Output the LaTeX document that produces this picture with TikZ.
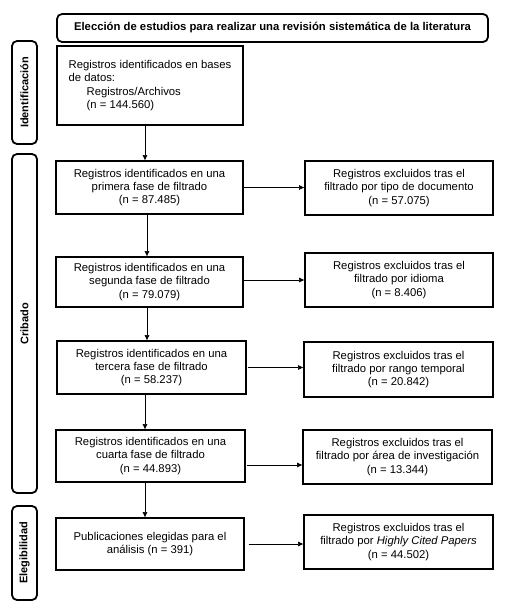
\documentclass[tikz,border=0pt]{standalone}
\usepackage{fontspec}
\setmainfont{Liberation Sans}
\usetikzlibrary{arrows.meta}
\begin{document}
\begin{tikzpicture}[x=1pt,y=-1pt,
  box/.style={draw, line width=1.8pt, inner sep=0pt, align=center, font=\fontsize{11.3}{13.2}\selectfont},
  side/.style={draw, line width=1.8pt, rounded corners=5pt, inner sep=0pt, minimum width=25pt},
  sidetext/.style={rotate=90, font=\bfseries\fontsize{11}{13}\selectfont},
  arrow/.style={line width=0.6pt, -{Triangle[length=5pt,width=4.5pt]}}]
\useasboundingbox (0,0) rectangle (517,610);
% title
\node[draw, line width=1.8pt, rounded corners=5pt, minimum width=431pt, minimum height=28pt, inner sep=0pt,
  font=\bfseries\fontsize{11.3}{13}\selectfont] (title) at (272.5,28)
  {Elección de estudios para realizar una revisión sistemática de la literatura};
% side boxes
\node[side, minimum height=103pt] (sid) at (24.5,92.5) {};
\node[sidetext] (sidt) at (sid.center) {Identificación};
\node[side, minimum height=339pt] (scr) at (24.5,323.5) {};
\node[sidetext] (scrt) at (scr.center) {Cribado};
\node[side, minimum height=94pt] (sel) at (24.5,553) {};
\node[sidetext] (selt) at (sel.center) {Elegibilidad};
% left column
\node[box, minimum width=186pt, minimum height=79pt, align=left] (b1) at (150,85.5)
  {Registros identificados en bases\\de datos:\\\hspace*{18pt}Registros/Archivos\\\hspace*{18pt}(n = 144.560)};
\node[box, minimum width=187pt, minimum height=53pt] (b2) at (149.5,187.5)
  {Registros identificados en una\\primera fase de filtrado\\(n = 87.485)};
\node[box, minimum width=187pt, minimum height=50pt] (b3) at (149.5,282)
  {Registros identificados en una\\segunda fase de filtrado\\(n = 79.079)};
\node[box, minimum width=189pt, minimum height=53pt] (b4) at (151.5,367.5)
  {Registros identificados en una\\tercera fase de filtrado\\(n = 58.237)};
\node[box, minimum width=189pt, minimum height=52pt] (b5) at (150.5,456)
  {Registros identificados en una\\cuarta fase de filtrado\\(n = 44.893)};
\node[box, minimum width=188pt, minimum height=52pt] (b6) at (150,544)
  {Publicaciones elegidas para el\\análisis (n = 391)};
% right column
\node[box, minimum width=188pt, minimum height=54pt] (e1) at (399,188)
  {Registros excluidos tras el\\filtrado por tipo de documento\\(n = 57.075)};
\node[box, minimum width=188pt, minimum height=54pt] (e2) at (399,280)
  {Registros excluidos tras el\\filtrado por idioma\\(n = 8.406)};
\node[box, minimum width=189pt, minimum height=55pt] (e3) at (398.5,369.5)
  {Registros excluidos tras el\\filtrado por rango temporal\\(n = 20.842)};
\node[box, minimum width=189pt, minimum height=54pt] (e4) at (397.5,457)
  {Registros excluidos tras el\\filtrado por área de investigación\\(n = 13.344)};
\node[box, minimum width=189pt, minimum height=54pt] (e5) at (398.5,542)
  {Registros excluidos tras el\\filtrado por \textit{Highly Cited Papers}\\(n = 44.502)};
% vertical arrows
\draw[arrow] ([xshift=-5pt]b1.south) -- ([xshift=-5pt]b1.south |- b2.north);
\draw[arrow] ([xshift=-2.5pt]b2.south) -- ([xshift=-2.5pt]b2.south |- b3.north);
\draw[arrow] ([xshift=-2.5pt]b3.south) -- ([xshift=-2.5pt]b3.south |- b4.north);
\draw[arrow] ([xshift=-6.5pt]b4.south) -- ([xshift=-6.5pt]b4.south |- b5.north);
\draw[arrow] ([xshift=-5.5pt]b5.south) -- ([xshift=-5.5pt]b5.south |- b6.north);
% horizontal arrows
\draw[arrow] (b2.east) -- (b2.east -| e1.west);
\draw[arrow] ([yshift=2pt]b3.east) -- ([yshift=2pt]b3.east -| e2.west);
\draw[arrow] ([xshift=1pt]b4.east) -- (b4.east -| e3.west);
\draw[arrow] ([xshift=1pt,yshift=-9pt]b5.east) -- ([yshift=-9pt]b5.east -| e4.west);
\draw[arrow] ([xshift=4pt]b6.east) -- (b6.east -| e5.west);
\end{tikzpicture}
\end{document}
